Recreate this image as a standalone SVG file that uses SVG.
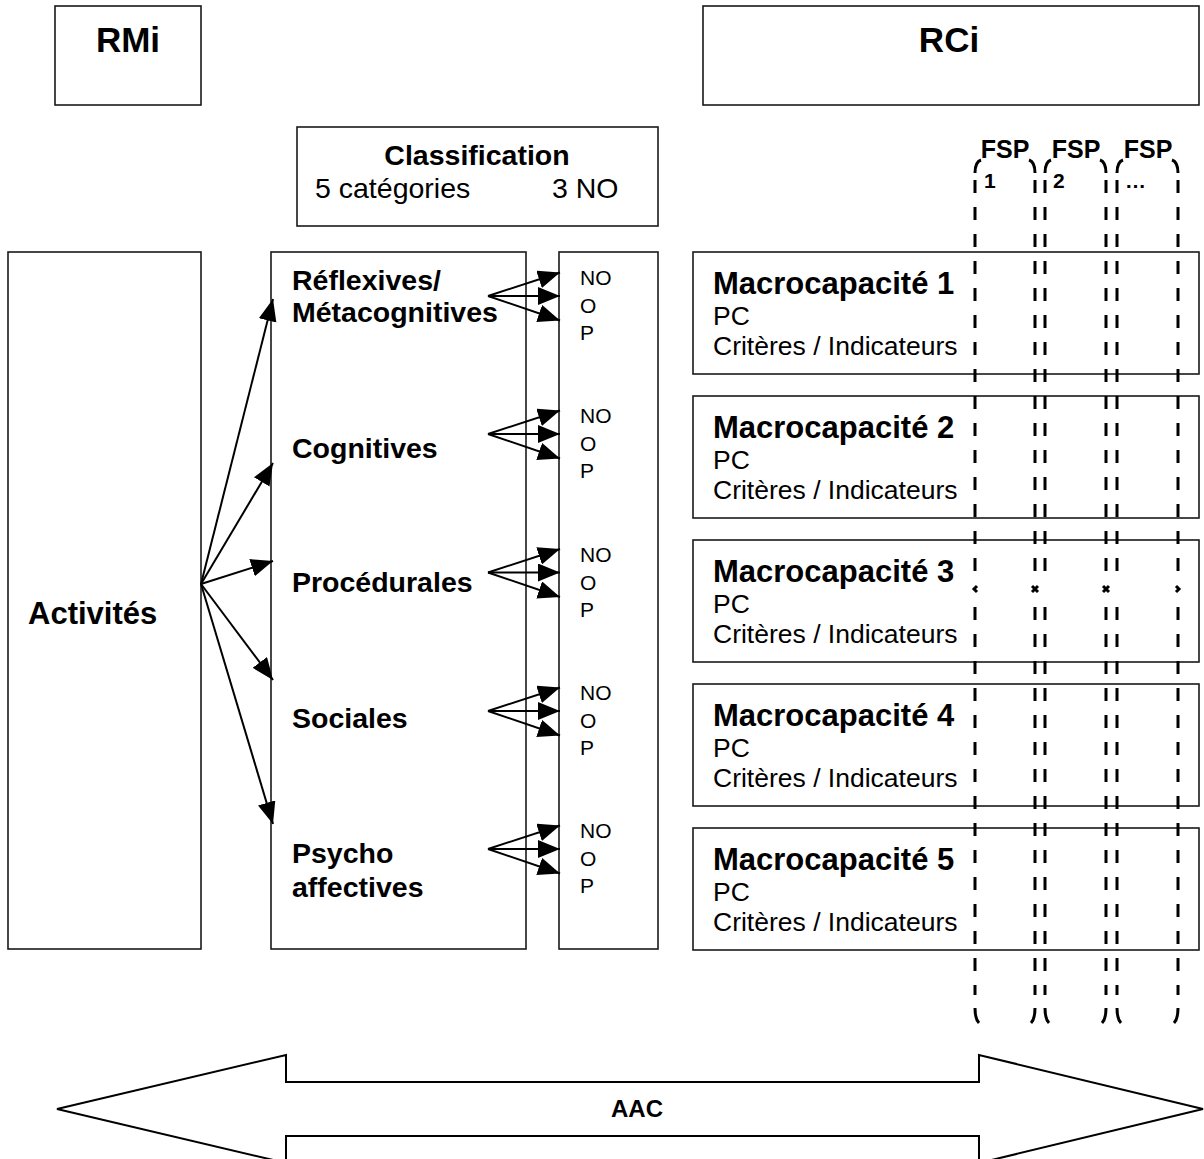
<svg xmlns="http://www.w3.org/2000/svg" width="1204" height="1159" viewBox="0 0 1204 1159">
<defs>
<style>
.box{fill:#fff;stroke:#1a1a1a;stroke-width:1.6}
.t{font-family:"Liberation Sans",Arial,sans-serif;fill:#000}
.b{font-weight:bold}
.con{stroke:#000;stroke-width:2;fill:none}
.dash{stroke:#000;stroke-width:3;fill:none;stroke-dasharray:13 14}
.hook{stroke:#000;stroke-width:3;fill:none;stroke-linecap:butt}
</style>
<marker id="ah" markerUnits="userSpaceOnUse" markerWidth="24" markerHeight="20" refX="22" refY="9" orient="auto">
<path d="M0,0 L22,9 L0,18 z" fill="#000"/>
</marker>
</defs>
<rect width="1204" height="1159" fill="#fff"/>

<g id="node-rmi">
<rect class="box" x="55" y="6" width="146" height="99"/>
<text class="t b" x="128" y="52" font-size="35" text-anchor="middle">RMi</text>
</g>
<g id="node-rci">
<rect class="box" x="703" y="6" width="496" height="99"/>
<text class="t b" x="949" y="52" font-size="35" text-anchor="middle">RCi</text>
</g>
<g id="node-classification">
<rect class="box" x="297" y="127" width="361" height="99"/>
<text class="t b" x="477" y="165" font-size="28.5" text-anchor="middle">Classification</text>
<text class="t" x="315" y="198" font-size="28.5">5 catégories</text>
<text class="t" x="552" y="198" font-size="28.5">3 NO</text>
</g>
<g id="node-activites">
<rect class="box" x="8" y="252" width="193" height="697"/>
<text class="t b" x="28" y="624" font-size="31">Activités</text>
</g>
<g id="node-categories">
<rect class="box" x="271" y="252" width="255" height="697"/>
<text class="t b" x="292" y="290" font-size="28.5">Réflexives/</text>
<text class="t b" x="292" y="322" font-size="28.5">Métacognitives</text>
<text class="t b" x="292" y="458" font-size="28.5">Cognitives</text>
<text class="t b" x="292" y="592" font-size="28.5">Procédurales</text>
<text class="t b" x="292" y="728" font-size="28.5">Sociales</text>
<text class="t b" x="292" y="863" font-size="28.5">Psycho</text>
<text class="t b" x="292" y="897" font-size="28.5">affectives</text>
</g>
<g id="node-nop">
<rect class="box" x="559" y="252" width="99" height="697"/>
<g class="t" font-size="21">
<text x="580" y="285">NO</text><text x="580" y="313">O</text><text x="580" y="340">P</text>
<text x="580" y="423">NO</text><text x="580" y="451">O</text><text x="580" y="478">P</text>
<text x="580" y="562">NO</text><text x="580" y="590">O</text><text x="580" y="617">P</text>
<text x="580" y="700">NO</text><text x="580" y="728">O</text><text x="580" y="755">P</text>
<text x="580" y="838">NO</text><text x="580" y="866">O</text><text x="580" y="893">P</text>
</g>
</g>

<g id="node-macro1">
<rect class="box" x="693" y="252" width="506" height="122"/>
<text class="t b" x="713" y="294" font-size="31">Macrocapacité 1</text>
<text class="t" x="713" y="325" font-size="26.5">PC</text>
<text class="t" x="713" y="355" font-size="26.5">Critères / Indicateurs</text>
</g>
<g id="node-macro2">
<rect class="box" x="693" y="396" width="506" height="122"/>
<text class="t b" x="713" y="438" font-size="31">Macrocapacité 2</text>
<text class="t" x="713" y="469" font-size="26.5">PC</text>
<text class="t" x="713" y="499" font-size="26.5">Critères / Indicateurs</text>
</g>
<g id="node-macro3">
<rect class="box" x="693" y="540" width="506" height="122"/>
<text class="t b" x="713" y="582" font-size="31">Macrocapacité 3</text>
<text class="t" x="713" y="613" font-size="26.5">PC</text>
<text class="t" x="713" y="643" font-size="26.5">Critères / Indicateurs</text>
</g>
<g id="node-macro4">
<rect class="box" x="693" y="684" width="506" height="122"/>
<text class="t b" x="713" y="726" font-size="31">Macrocapacité 4</text>
<text class="t" x="713" y="757" font-size="26.5">PC</text>
<text class="t" x="713" y="787" font-size="26.5">Critères / Indicateurs</text>
</g>
<g id="node-macro5">
<rect class="box" x="693" y="828" width="506" height="122"/>
<text class="t b" x="713" y="870" font-size="31">Macrocapacité 5</text>
<text class="t" x="713" y="901" font-size="26.5">PC</text>
<text class="t" x="713" y="931" font-size="26.5">Critères / Indicateurs</text>
</g>

<g id="node-fsp1">
<path class="dash" d="M975,180 V585 M975,607 V995 M1035,180 V585 M1035,607 V995"/>
<path class="hook" d="M975,173 Q975,162 981,160 M1035,173 Q1035,162 1029,160 M975,1008 Q975,1019 979,1023 M1035,1008 Q1035,1019 1031,1023 M977,586 L974,589 L977,592 M1032,586 L1035,589 L1032,592 M1038,586 L1035,589 L1038,592"/>
<text class="t b" x="1005" y="158" font-size="25" text-anchor="middle">FSP</text>
<text class="t b" x="984" y="188" font-size="21">1</text>
</g>
<g id="node-fsp2">
<path class="dash" d="M1045,180 V585 M1045,607 V995 M1106,180 V585 M1106,607 V995"/>
<path class="hook" d="M1045,173 Q1045,162 1051,160 M1106,173 Q1106,162 1100,160 M1045,1008 Q1045,1019 1049,1023 M1106,1008 Q1106,1019 1102,1023 M1103,586 L1106,589 L1103,592 M1109,586 L1106,589 L1109,592"/>
<text class="t b" x="1076" y="158" font-size="25" text-anchor="middle">FSP</text>
<text class="t b" x="1053" y="188" font-size="21">2</text>
</g>
<g id="node-fsp3">
<path class="dash" d="M1117,180 V585 M1117,607 V995 M1178,180 V585 M1178,607 V995"/>
<path class="hook" d="M1117,173 Q1117,162 1123,160 M1178,173 Q1178,162 1172,160 M1117,1008 Q1117,1019 1121,1023 M1178,1008 Q1178,1019 1174,1023 M1176,586 L1179,589 L1176,592"/>
<text class="t b" x="1148" y="158" font-size="25" text-anchor="middle">FSP</text>
<text class="t b" x="1125" y="188" font-size="21">…</text>
</g>

<g id="node-aac">
<polygon points="57,1109 286,1055 286,1082 979,1082 979,1055 1203,1109 979,1163 979,1136 286,1136 286,1163" fill="#fff" stroke="#000" stroke-width="2"/>
<text class="t b" x="637" y="1117" font-size="24" text-anchor="middle">AAC</text>
</g>

<g id="connectors">
<line class="con" x1="201" y1="584" x2="273" y2="299" marker-end="url(#ah)"/>
<line class="con" x1="201" y1="584" x2="273" y2="463" marker-end="url(#ah)"/>
<line class="con" x1="201" y1="584" x2="273" y2="561" marker-end="url(#ah)"/>
<line class="con" x1="201" y1="584" x2="273" y2="680" marker-end="url(#ah)"/>
<line class="con" x1="201" y1="584" x2="273" y2="824" marker-end="url(#ah)"/>

<line class="con" x1="488" y1="296" x2="560" y2="272.5" marker-end="url(#ah)"/>
<line class="con" x1="488" y1="296" x2="560" y2="296" marker-end="url(#ah)"/>
<line class="con" x1="488" y1="296" x2="560" y2="320.5" marker-end="url(#ah)"/>

<line class="con" x1="488" y1="434" x2="560" y2="410.5" marker-end="url(#ah)"/>
<line class="con" x1="488" y1="434" x2="560" y2="434" marker-end="url(#ah)"/>
<line class="con" x1="488" y1="434" x2="560" y2="458.5" marker-end="url(#ah)"/>

<line class="con" x1="488" y1="572.5" x2="560" y2="549" marker-end="url(#ah)"/>
<line class="con" x1="488" y1="572.5" x2="560" y2="572.5" marker-end="url(#ah)"/>
<line class="con" x1="488" y1="572.5" x2="560" y2="597" marker-end="url(#ah)"/>

<line class="con" x1="488" y1="711" x2="560" y2="687.5" marker-end="url(#ah)"/>
<line class="con" x1="488" y1="711" x2="560" y2="711" marker-end="url(#ah)"/>
<line class="con" x1="488" y1="711" x2="560" y2="735.5" marker-end="url(#ah)"/>

<line class="con" x1="488" y1="849" x2="560" y2="825.5" marker-end="url(#ah)"/>
<line class="con" x1="488" y1="849" x2="560" y2="849" marker-end="url(#ah)"/>
<line class="con" x1="488" y1="849" x2="560" y2="873.5" marker-end="url(#ah)"/>
</g>
</svg>
